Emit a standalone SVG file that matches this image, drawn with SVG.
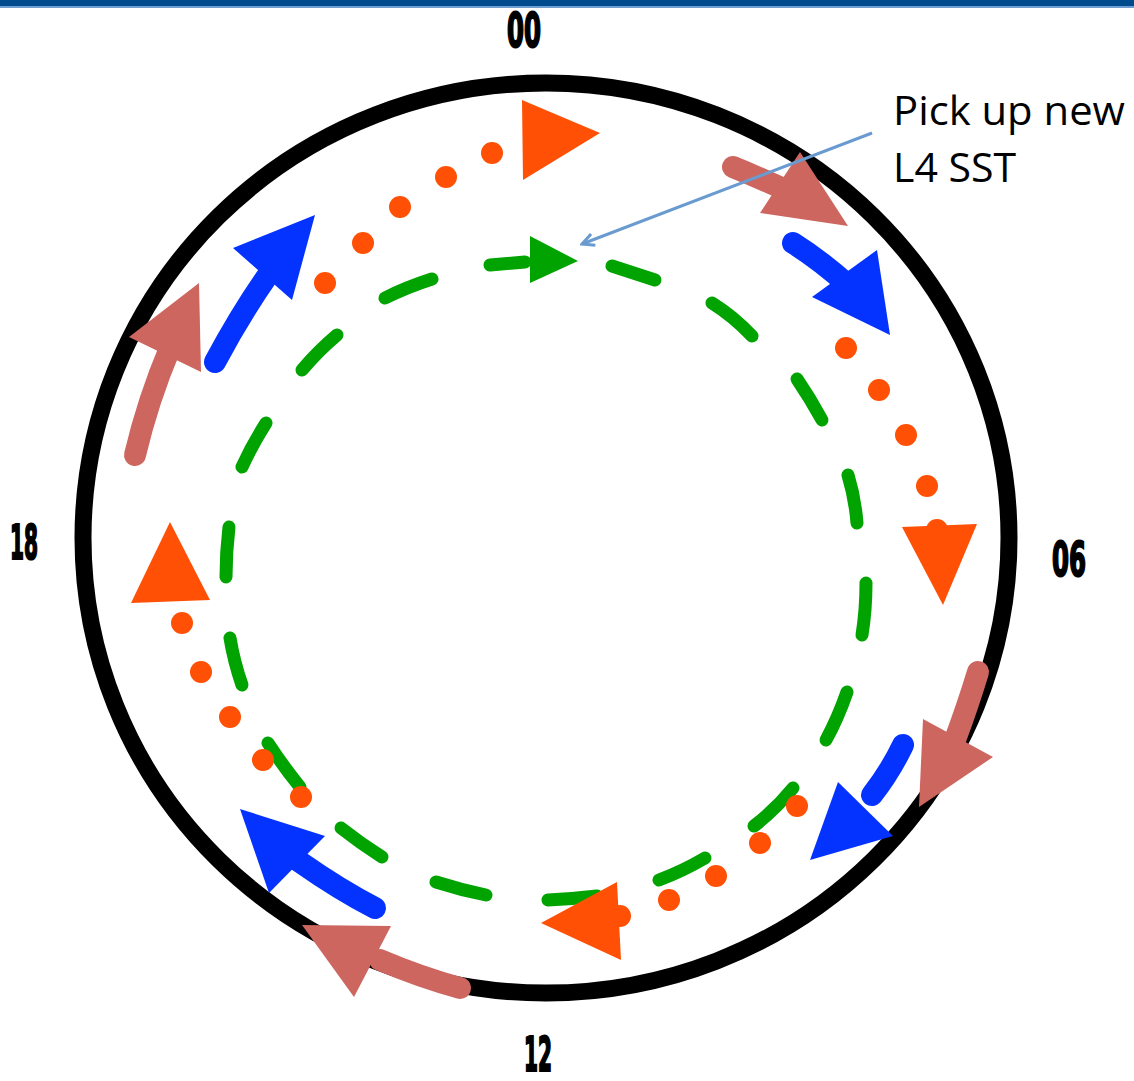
<svg xmlns="http://www.w3.org/2000/svg" width="1134" height="1081" viewBox="0 0 1134 1081">
<style>
.lbl{font-family:"Liberation Sans Narrow","DejaVu Sans Condensed","Liberation Sans",sans-serif;font-weight:bold;font-size:48px;fill:#000;stroke:#000;stroke-width:2.2;text-anchor:middle}
.note{font-family:"Open Sans","Liberation Sans",sans-serif;font-size:41px;fill:#000}
.sal{fill:none;stroke:#cc665f;stroke-width:22;stroke-linecap:round;stroke-linejoin:round}
.salh{fill:#cc665f}
.blu{fill:none;stroke:#0433ff;stroke-width:22;stroke-linecap:round;stroke-linejoin:round}
.bluh{fill:#0433ff}
.dot{fill:#ff5005}
.grn{fill:none;stroke:#00a300;stroke-width:13;stroke-linecap:round}
</style>
<defs>
<marker id="ah" markerWidth="16" markerHeight="16" refX="14" refY="8" orient="auto" markerUnits="userSpaceOnUse">
<path d="M2,2 L14,8 L2,14" fill="none" stroke="#6a9bd0" stroke-width="3"/>
</marker>
</defs>
<rect x="0" y="0" width="1134" height="6" fill="#004b8d"/>
<rect x="0" y="6" width="1134" height="2" fill="#6f9fd2"/>
<g id="dial">
<ellipse cx="546" cy="538" rx="463" ry="455" fill="none" stroke="#000" stroke-width="17"/>
</g>
<g id="labels">
<text class="lbl" x="524" y="47" textLength="34" lengthAdjust="spacingAndGlyphs">00</text>
<text class="lbl" x="1069" y="576" textLength="34" lengthAdjust="spacingAndGlyphs">06</text>
<text class="lbl" x="538" y="1071" textLength="28" lengthAdjust="spacingAndGlyphs">12</text>
<text class="lbl" x="24" y="559" textLength="28" lengthAdjust="spacingAndGlyphs">18</text>
</g>
<g id="green-ring">
<path class="grn" d="M490,265 L525,262"/>
<path class="grn" d="M612,266 L655,280"/>
<path class="grn" d="M712,303 Q733,316 752,336"/>
<path class="grn" d="M797,379 Q810,398 822,420"/>
<path class="grn" d="M848,475 Q855,498 857,523"/>
<path class="grn" d="M866,583 Q866,610 862,635"/>
<path class="grn" d="M847,692 Q838,718 826,740"/>
<path class="grn" d="M793,788 Q775,810 754,826"/>
<path class="grn" d="M705,858 Q683,871 659,880"/>
<path class="grn" d="M548,900 Q572,899 597,896"/>
<path class="grn" d="M436,882 Q461,890 486,895"/>
<path class="grn" d="M341,828 Q360,843 382,857"/>
<path class="grn" d="M268,743 Q283,766 300,787"/>
<path class="grn" d="M230,638 Q234,662 242,685"/>
<path class="grn" d="M229,527 Q226,552 226,577"/>
<path class="grn" d="M242,467 Q252,445 266,423"/>
<path class="grn" d="M302,370 Q318,351 337,335"/>
<path class="grn" d="M385,298 Q407,287 432,279"/>
<polygon fill="#00a300" points="530,236 578,261 530,283"/>
</g>
<g id="orange-dots">
<circle class="dot" cx="325" cy="283" r="11"/>
<circle class="dot" cx="363" cy="243" r="11"/>
<circle class="dot" cx="400" cy="207" r="11"/>
<circle class="dot" cx="446" cy="177" r="11"/>
<circle class="dot" cx="492" cy="153" r="11"/>
<polygon class="dot" points="522,100 600,133 523,180"/>
<circle class="dot" cx="846" cy="348" r="11"/>
<circle class="dot" cx="879" cy="390" r="11"/>
<circle class="dot" cx="906" cy="435" r="11"/>
<circle class="dot" cx="927" cy="486" r="11"/>
<circle class="dot" cx="937" cy="530" r="11"/>
<polygon class="dot" points="902,527 977,524 943,605"/>
<circle class="dot" cx="797" cy="806" r="11"/>
<circle class="dot" cx="760" cy="843" r="11"/>
<circle class="dot" cx="716" cy="876" r="11"/>
<circle class="dot" cx="669" cy="900" r="11"/>
<circle class="dot" cx="620" cy="916" r="11"/>
<polygon class="dot" points="541,923 617,882 621,960"/>
<circle class="dot" cx="182" cy="623" r="11"/>
<circle class="dot" cx="201" cy="672" r="11"/>
<circle class="dot" cx="230" cy="717" r="11"/>
<circle class="dot" cx="263" cy="760" r="11"/>
<circle class="dot" cx="301" cy="797" r="11"/>
<polygon class="dot" points="131,603 170,522 210,600"/>
</g>
<g id="blue-arrows">
<path class="blu" d="M215,362 Q240,315 268,275"/>
<polygon class="bluh" points="233,248 315,215 292,300"/>
<path class="blu" d="M793,243 Q820,260 848,285"/>
<polygon class="bluh" points="877,250 812,297 890,335"/>
<path class="blu" d="M903,745 Q890,772 872,795"/>
<polygon class="bluh" points="838,782 893,836 810,860"/>
<path class="blu" d="M375,908 Q340,890 300,862"/>
<polygon class="bluh" points="240,809 325,836 269,893"/>
</g>
<g id="salmon-arrows">
<path class="sal" d="M733,167 Q760,178 790,192"/>
<polygon class="salh" points="800,152 848,226 760,213"/>
<path class="sal" d="M978,672 Q968,705 955,740"/>
<polygon class="salh" points="923,719 993,757 919,807"/>
<path class="sal" d="M460,988 Q420,977 380,960"/>
<polygon class="salh" points="302,925 391,926 354,997"/>
<path class="sal" d="M135,455 Q148,400 170,348"/>
<polygon class="salh" points="129,337 199,283 201,372"/>
</g>
<g id="connectors">
<line x1="872" y1="133" x2="582" y2="244" stroke="#6a9bd0" stroke-width="3" marker-end="url(#ah)"/>
</g>
<g id="note">
<text class="note" x="893" y="125" textLength="232" lengthAdjust="spacingAndGlyphs">Pick up new</text>
<text class="note" x="893" y="182">L4 SST</text>
</g>
</svg>
